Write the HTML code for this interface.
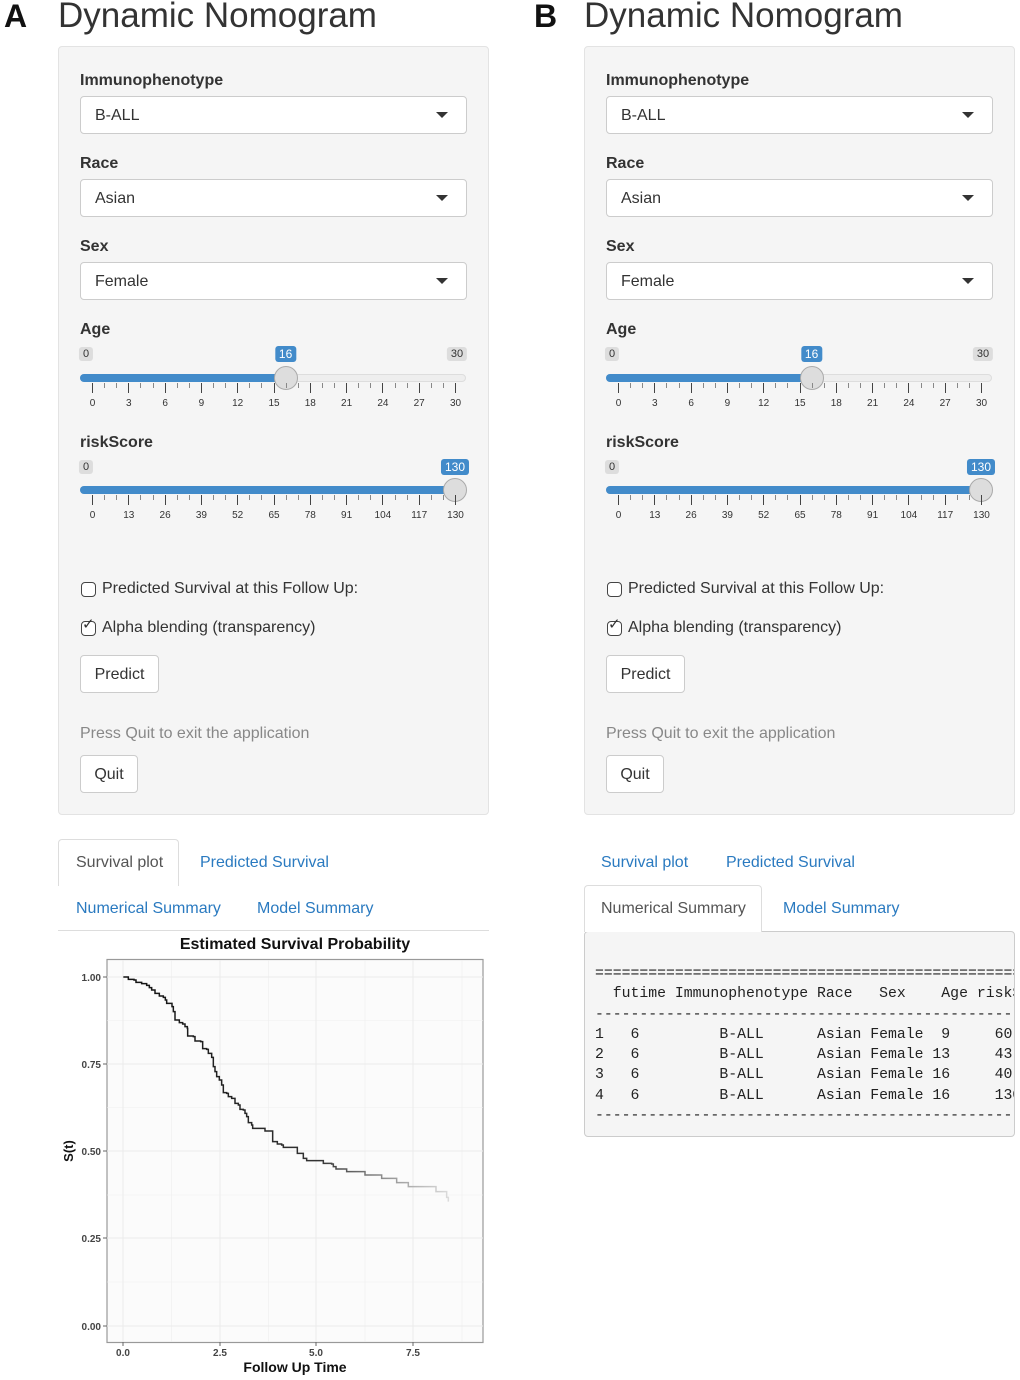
<!DOCTYPE html>
<html><head><meta charset="utf-8">
<style>
body{margin:0;width:1020px;height:1380px;background:#fff;position:relative;overflow:hidden;font-family:"Liberation Sans",sans-serif;color:#333}
.a{position:absolute;white-space:nowrap}
.sel{position:absolute;border:1px solid #ccc;border-radius:4px;background:#fff;height:36px;width:385px;box-sizing:border-box}
.sel span{position:absolute;left:14px;top:10px;font-size:16px}
.sel i{position:absolute;right:18px;top:15px;border-left:6px solid transparent;border-right:6px solid transparent;border-top:6px solid #333}
.btn{position:absolute;border:1px solid #ccc;border-radius:4px;background:#fff;height:38px;box-sizing:border-box;font-size:16px;text-align:center;line-height:38px}
.badge{position:absolute;font-size:11px;padding:1px 4px;border-radius:3px;background:#ddd;color:#333;transform:translateX(-50%)}
.blue{background:#428bca;color:#fff;font-size:12px}
.tk{position:absolute;width:1px;background:#444}
.tl{position:absolute;font-size:10px;color:#333;transform:translateX(-50%)}
.cb{position:absolute;width:15px;height:15px;border:1px solid #444;border-radius:4px;box-sizing:border-box;background:#fff}
.tab{position:absolute;font-size:16px;color:#2a7ac0}
pre{margin:0;font-family:"Liberation Mono",monospace;font-size:14.8px;line-height:20.3px;color:#222}
</style></head><body>
<div class="a" style="left:4px;top:-2px;font-size:32px;font-weight:bold;color:#111">A</div>
<div class="a" style="left:58px;top:-4px;font-size:35px;color:#333">Dynamic Nomogram</div>
<div class="a" style="left:534px;top:-2px;font-size:32px;font-weight:bold;color:#111">B</div>
<div class="a" style="left:584px;top:-4px;font-size:35px;color:#333">Dynamic Nomogram</div>
<div id="root"></div>

<div class="a" style="left:58px;top:839px;width:121px;height:47px;border:1px solid #ddd;border-bottom:none;border-radius:4px 4px 0 0;background:#fff;box-sizing:border-box"></div>
<div class="tab" style="left:76px;top:854px;color:#555">Survival plot</div>
<div class="tab" style="left:200px;top:854px">Predicted Survival</div>
<div class="tab" style="left:76px;top:900px">Numerical Summary</div>
<div class="tab" style="left:257px;top:900px">Model Summary</div>
<div class="a" style="left:58px;top:930px;width:431px;height:1px;background:#ddd"></div>

<svg class="a" style="left:0;top:0" width="1020" height="1380">
<defs><linearGradient id="g" gradientUnits="userSpaceOnUse" x1="190" y1="0" x2="1170" y2="0">
<stop offset="0" stop-color="#111"/><stop offset="0.6" stop-color="#333"/><stop offset="0.82" stop-color="#999"/><stop offset="1" stop-color="#ddd"/></linearGradient></defs>
<text x="295" y="949" font-family="Liberation Sans" font-weight="bold" font-size="16" text-anchor="middle" fill="#111">Estimated Survival Probability</text>
<rect x="107" y="959.5" width="376" height="383" fill="#fbfbfb" stroke="#999" stroke-width="1.2"/>
<g stroke="#efefef" stroke-width="0.6">
<line x1="171.5" y1="960" x2="171.5" y2="1342"/><line x1="268.5" y1="960" x2="268.5" y2="1342"/><line x1="365" y1="960" x2="365" y2="1342"/><line x1="462" y1="960" x2="462" y2="1342"/>
<line x1="107" y1="1020.5" x2="483" y2="1020.5"/><line x1="107" y1="1107.5" x2="483" y2="1107.5"/><line x1="107" y1="1195" x2="483" y2="1195"/><line x1="107" y1="1282" x2="483" y2="1282"/>
</g>
<g stroke="#ebebeb" stroke-width="1">
<line x1="123" y1="960" x2="123" y2="1342"/><line x1="220" y1="960" x2="220" y2="1342"/><line x1="316" y1="960" x2="316" y2="1342"/><line x1="413" y1="960" x2="413" y2="1342"/>
<line x1="107" y1="977" x2="483" y2="977"/><line x1="107" y1="1064" x2="483" y2="1064"/><line x1="107" y1="1151" x2="483" y2="1151"/><line x1="107" y1="1238" x2="483" y2="1238"/><line x1="107" y1="1326" x2="483" y2="1326"/>
</g>
<g stroke="#666" stroke-width="1"><line x1="103" y1="977" x2="107" y2="977"/><line x1="103" y1="1064" x2="107" y2="1064"/><line x1="103" y1="1151" x2="107" y2="1151"/><line x1="103" y1="1238" x2="107" y2="1238"/><line x1="103" y1="1326" x2="107" y2="1326"/>
<line x1="123" y1="1342" x2="123" y2="1346"/><line x1="220" y1="1342" x2="220" y2="1346"/><line x1="316" y1="1342" x2="316" y2="1346"/><line x1="413" y1="1342" x2="413" y2="1346"/></g>
<g font-family="Liberation Sans" font-weight="bold" font-size="10" fill="#444" text-anchor="end">
<text x="101" y="981">1.00</text><text x="101" y="1068">0.75</text><text x="101" y="1155">0.50</text><text x="101" y="1242">0.25</text><text x="101" y="1330">0.00</text></g>
<g font-family="Liberation Sans" font-weight="bold" font-size="10" fill="#444" text-anchor="middle">
<text x="123" y="1356">0.0</text><text x="220" y="1356">2.5</text><text x="316" y="1356">5.0</text><text x="413" y="1356">7.5</text></g>
<text x="295" y="1372" font-family="Liberation Sans" font-weight="bold" font-size="14" text-anchor="middle" fill="#111">Follow Up Time</text>
<text transform="translate(73,1151) rotate(-90)" font-family="Liberation Sans" font-weight="bold" font-size="13" text-anchor="middle" fill="#111">S(t)</text>
<g transform="translate(60,940) scale(0.33333)">
<path fill="none" stroke="url(#g)" stroke-width="4.5" d="M190,111 H205 V118 H222 V120 H228 V127 H245 V131 H260 V136 H268 V143 H275 V150 H285 V160 H298 V168 H310 V172 H316 V180 H320 V190 H330 V190 H336 V200 H340 V215 H345 V240 H358 V248 H368 V252 H375 V260 H382 V265 H383 V288 H400 V290 H405 V303 H422 V305 H428 V326 H440 V328 H445 V340 H455 V352 H460 V380 H465 V395 H470 V410 H478 V420 H485 V435 H490 V458 H500 V460 H505 V470 H515 V475 H525 V490 H535 V495 H540 V508 H550 V510 H555 V520 H560 V530 H565 V548 H575 V555 H578 V565 H615 V573 H638 V605 H652 V612 H665 V615 H670 V622 H712 V640 H730 V655 H740 V662 H790 V670 H815 V672 H820 V680 H828 V687 H860 V695 H915 V705 H965 V715 H1010 V728 H1045 V740 H1128 V755 H1160 V772 H1165 V785"/>
</g>
</svg>

<div class="tab" style="left:601px;top:854px">Survival plot</div>
<div class="tab" style="left:726px;top:854px">Predicted Survival</div>
<div class="a" style="left:584px;top:885px;width:178px;height:47px;border:1px solid #ddd;border-bottom:none;border-radius:4px 4px 0 0;background:#fff;box-sizing:border-box;z-index:2"></div>
<div class="tab" style="left:601px;top:900px;color:#555;z-index:3">Numerical Summary</div>
<div class="tab" style="left:783px;top:900px">Model Summary</div>
<div class="a" style="left:584px;top:931px;width:431px;height:206px;border:1px solid #ccc;border-radius:4px;background:#f5f5f5;box-sizing:border-box;overflow:hidden">
<pre style="position:absolute;left:10px;top:32px">=====================================================
  futime Immunophenotype Race   Sex    Age riskScore
-----------------------------------------------------
1   6         B-ALL      Asian Female  9     60
2   6         B-ALL      Asian Female 13     43
3   6         B-ALL      Asian Female 16     40
4   6         B-ALL      Asian Female 16     130
-----------------------------------------------------</pre>
</div>

<script>
function panel(ox){
  let h='';
  const A=(x,y,s,st='')=>`<div class="a" style="left:${x+ox}px;top:${y}px;${st}">${s}</div>`;
  h+=`<div class="a" style="left:${ox+58}px;top:46px;width:431px;height:769px;background:#f5f5f5;border:1px solid #e3e3e3;border-radius:4px;box-sizing:border-box"></div>`;
  const sels=[['Immunophenotype','B-ALL',72,96],['Race','Asian',155,179],['Sex','Female',238,262]];
  for(const s of sels){
    h+=A(80,s[2],s[0],'font-weight:bold;font-size:16px');
    h+=`<div class="sel" style="left:${ox+80}px;top:${s[3]}px;width:387px;height:38px"><span>${s[1]}</span><i></i></div>`;
  }
  const sl=[['Age',321,347,378,16,30,[0,3,6,9,12,15,18,21,24,27,30]],['riskScore',434,460,490,130,130,[0,13,26,39,52,65,78,91,104,117,130]]];
  for(const s of sl){
    h+=A(80,s[1],s[0],'font-weight:bold;font-size:16px');
    const x0=92,x1=455;
    const hx=x0+(x1-x0)*s[4]/s[5];
    h+=`<div class="badge" style="left:${ox+86}px;top:${s[2]}px">0</div>`;
    if(s[4]!=s[5]) h+=`<div class="badge" style="left:${ox+457}px;top:${s[2]}px">${s[5]}</div>`;
    h+=`<div class="badge blue" style="left:${ox+hx}px;top:${s[2]-1}px">${s[4]}</div>`;
    h+=`<div class="a" style="left:${ox+80}px;top:${s[3]-4}px;width:386px;height:8px;border-radius:4px;background:#eee;border:1px solid #ddd;box-sizing:border-box"></div>`;
    h+=`<div class="a" style="left:${ox+80}px;top:${s[3]-4}px;width:${hx-80}px;height:8px;border-radius:4px;background:#428bca"></div>`;
    h+=`<div class="a" style="left:${ox+hx-12}px;top:${s[3]-12}px;width:24px;height:24px;border-radius:50%;background:#ddd;border:1px solid #aaa;box-sizing:border-box"></div>`;
    for(let i=0;i<=30;i++){
      const x=x0+(x1-x0)*i/30; const maj=i%3==0;
      h+=`<div class="tk" style="left:${ox+x}px;top:${s[3]+5}px;height:${maj?10:5}px;${maj?'':'background:#888'}"></div>`;
    }
    s[6].forEach((v,i)=>{h+=`<div class="tl" style="left:${ox+x0+(x1-x0)*i/10+0.5}px;top:${s[3]+20}px">${v}</div>`;});
  }
  h+=`<div class="cb" style="left:${ox+81}px;top:582px"></div>`;
  h+=A(102,580,'Predicted Survival at this Follow Up:','font-size:16px');
  h+=`<div class="cb" style="left:${ox+81}px;top:621px"></div><div class="a" style="left:${ox+82}px;top:615px;font-size:15px">✓</div>`;
  h+=A(102,619,'Alpha blending (transparency)','font-size:16px');
  h+=`<div class="btn" style="left:${ox+80}px;top:655px;width:79px">Predict</div>`;
  h+=A(80,725,'Press Quit to exit the application','font-size:16px;color:#888');
  h+=`<div class="btn" style="left:${ox+80}px;top:755px;width:58px">Quit</div>`;
  return h;
}
document.getElementById('root').innerHTML=panel(0)+panel(526);
</script>
</body></html>
